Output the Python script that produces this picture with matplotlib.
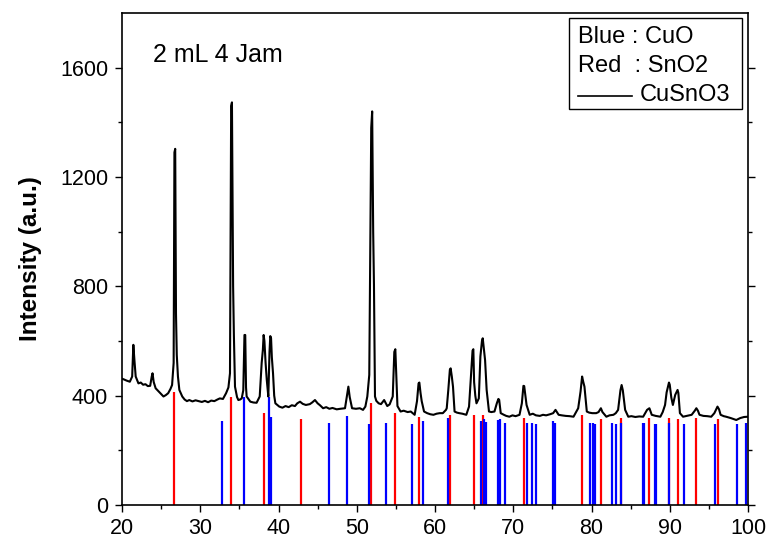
import matplotlib
matplotlib.use("Agg")
import matplotlib.pyplot as plt
from matplotlib.lines import Line2D
from matplotlib.patches import Rectangle
import numpy as np

plt.rcParams['font.family'] = ['Liberation Sans', 'DejaVu Sans']

# measured pattern (2theta, intensity)
two_theta = [20.0, 20.2, 20.6, 21.0, 21.3, 21.45, 21.6, 21.75, 22.1, 22.4, 22.7, 23.0, 23.3, 23.6,
             23.8, 23.9, 24.05, 24.3, 24.6, 24.9, 25.3, 25.6, 25.9, 26.2, 26.4, 26.6, 26.7, 26.8,
             26.9, 27.0, 27.15, 27.33, 27.7, 28.0, 28.3, 28.6, 29.0, 29.4, 29.8, 30.2, 30.6, 31.0,
             31.4, 31.8, 32.2, 32.5, 32.9, 33.3, 33.6, 33.8, 33.95, 34.05, 34.2, 34.3, 34.44, 34.7,
             34.87, 35.1, 35.3, 35.5, 35.65, 35.75, 35.85, 35.93, 36.2, 36.4, 36.8, 37.2, 37.6,
             37.85, 38.0, 38.1, 38.2, 38.35, 38.5, 38.7, 38.85, 38.95, 39.05, 39.15, 39.3, 39.45,
             39.6, 40.1, 40.5, 40.9, 41.3, 41.7, 42.1, 42.4, 42.75, 43.1, 43.5, 44.0, 44.3, 44.66,
             45.0, 45.3, 45.7, 46.1, 46.5, 46.9, 47.44, 47.9, 48.5, 48.75, 48.93, 49.1, 49.4, 49.9,
             50.4, 50.8, 51.1, 51.35, 51.6, 51.85, 51.97, 52.1, 52.2, 52.33, 52.5, 52.8, 53.1, 53.5,
             53.9, 54.2, 54.6, 54.8, 54.93, 55.05, 55.2, 55.6, 56.0, 56.5, 56.9, 57.4, 57.7, 57.9,
             58.0, 58.15, 58.3, 58.6, 59.0, 59.4, 59.8, 60.2, 60.6, 61.0, 61.4, 61.5, 61.7, 61.9,
             62.0, 62.15, 62.3, 62.5, 62.8, 63.1, 63.5, 64.0, 64.35, 64.6, 64.8, 64.9, 65.0, 65.15,
             65.3, 65.6, 65.8, 66.0, 66.1, 66.25, 66.4, 66.6, 66.9, 67.2, 67.6, 67.9, 68.1, 68.2,
             68.4, 68.8, 69.1, 69.5, 69.9, 70.3, 70.8, 71.1, 71.3, 71.4, 71.7, 72.1, 72.5, 72.9,
             73.4, 73.8, 74.2, 74.7, 75.1, 75.4, 75.8, 76.2, 76.7, 77.2, 77.7, 78.3, 78.6, 78.8,
             78.95, 79.1, 79.4, 79.7, 80.1, 80.6, 80.9, 81.2, 81.4, 81.9, 82.3, 82.8, 83.1, 83.4,
             83.7, 83.85, 84.0, 84.3, 84.7, 85.1, 85.6, 86.1, 86.6, 87.1, 87.4, 87.7, 88.2, 88.8,
             89.1, 89.4, 89.6, 89.9, 90.0, 90.2, 90.4, 90.7, 91.0, 91.1, 91.3, 91.7, 92.2, 92.8,
             93.2, 93.4, 93.6, 93.8, 94.3, 94.8, 95.3, 95.7, 96.1, 96.3, 96.5, 96.9, 97.2, 97.8,
             98.5, 99.0, 99.5, 100.0]
intensity = [462, 460, 455, 451, 470, 586, 525, 470, 445, 448, 440, 442, 435, 436,
             470, 482, 450, 427, 418, 409, 397, 402, 409, 425, 439, 520, 1290, 1303,
             700, 549, 470, 421, 397, 386, 380, 384, 379, 383, 380, 377, 381, 376,
             382, 380, 386, 390, 388, 409, 430, 482, 1460, 1473, 800, 620, 433, 395,
             384, 386, 390, 420, 622, 622, 430, 397, 386, 378, 375, 374, 397,
             520, 567, 622, 600, 520, 458, 397, 560, 618, 610, 540, 482, 400,
             372, 360, 356, 362, 358, 365, 362, 372, 378, 370, 366, 369, 375, 384,
             372, 365, 354, 358, 352, 355, 350, 352, 354, 400, 433, 395, 354, 352,
             354, 348, 360, 397, 476, 1380, 1440, 1000, 805, 397, 381, 372, 369, 384,
             362, 368, 397, 560, 570, 480, 362, 342, 345, 340, 342, 330, 380, 445,
             448, 410, 380, 342, 336, 332, 330, 334, 336, 336, 348, 354, 421, 495,
             500, 470, 433, 342, 338, 336, 334, 330, 360, 473, 565, 570, 449, 400,
             372, 390, 543, 600, 610, 570, 530, 421, 342, 340, 342, 372, 388, 385,
             336, 330, 326, 323, 328, 325, 330, 372, 436, 435, 366, 330, 334, 328,
             326, 330, 328, 332, 336, 348, 330, 328, 326, 325, 323, 354, 415, 470,
             450, 433, 342, 338, 336, 336, 340, 354, 340, 323, 328, 330, 336, 348,
             420, 439, 420, 348, 323, 325, 322, 324, 323, 348, 354, 330, 326, 323,
             340, 366, 412, 448, 440, 393, 366, 403, 421, 410, 336, 323, 326, 330,
             345, 354, 345, 330, 326, 325, 323, 336, 360, 350, 330, 325, 323, 318,
             311, 318, 322, 323]

# reference sticks
sno2_pos = [26.69, 33.93, 38.15, 42.87, 51.78, 54.89, 57.91, 61.92, 64.94, 66.1, 71.33,
            78.83, 81.21, 83.77, 87.31, 89.86, 91.1, 93.4, 96.2]
sno2_int = [415, 394, 336, 314, 375, 336, 321, 330, 330, 330, 320,
            330, 314, 320, 320, 320, 314, 320, 314]
cuo_pos = [32.78, 35.59, 38.83, 39.08, 46.41, 48.75, 51.57, 53.69, 57.02, 58.42, 61.70,
           65.88, 66.26, 66.52, 68.09, 68.3, 68.99, 71.76, 72.43, 72.94, 75.12, 75.33,
           79.81, 80.19, 80.45, 82.58, 83.09, 83.77, 86.54, 86.75, 88.08, 88.28, 89.86,
           91.82, 95.78, 98.55, 99.74]
cuo_int = [307, 394, 394, 321, 301, 327, 295, 301, 295, 307, 320,
           309, 314, 304, 311, 314, 301, 301, 301, 295, 307, 301,
           301, 301, 295, 301, 295, 301, 301, 301, 295, 295, 301,
           295, 295, 295, 301]

fig = plt.figure(figsize=(7.67, 5.41), dpi=100)
ax = fig.add_axes([122/767, 36/541, 626/767, 492/541])

ax.vlines(sno2_pos, 0, sno2_int, colors='#ff0000', linewidth=1.6)
ax.vlines(cuo_pos, 0, cuo_int, colors='#0000ff', linewidth=1.6)
ax.plot(two_theta, intensity, color='black', linewidth=1.5)

ax.set_xlim(20, 100)
ax.set_ylim(0, 1800)
ax.set_xticks(np.arange(20, 101, 10))
ax.set_xticks(np.arange(25, 100, 10), minor=True)
ax.set_yticks([0, 400, 800, 1200, 1600])
ax.set_yticks([200, 600, 1000, 1400], minor=True)
ax.tick_params(which='both', direction='out', left=True, right=True, top=False,
               labelsize=15.5, width=1)
ax.tick_params(which='major', length=5)
ax.tick_params(which='minor', length=3)
ax.tick_params(axis='y', pad=5)
ax.tick_params(axis='x', pad=4)
for s in ax.spines.values():
    s.set_linewidth(1.2)

ax.set_ylabel('Intensity (a.u.)', fontsize=17.5, fontweight='bold')
ax.yaxis.set_label_coords((42-122)/626, 0.5)
ax.text(0.05, 0.915, '2 mL 4 Jam', transform=ax.transAxes, fontsize=18, va='center')

# legend box
ax.add_patch(Rectangle(((569-122)/626, (505-109)/492), (742-569)/626, 91/492,
                       transform=ax.transAxes, fill=False, edgecolor='black', linewidth=1))
tx = (578-122)/626
ax.text(tx, (505-37)/492, 'Blue : CuO', transform=ax.transAxes, fontsize=17, va='center')
ax.text(tx, (505-66)/492, 'Red  : SnO2', transform=ax.transAxes, fontsize=17, va='center')
ax.add_line(Line2D([tx, (632-122)/626], [(505-96)/492]*2, transform=ax.transAxes,
                   color='black', linewidth=1.2))
ax.text((640-122)/626, (505-95)/492, 'CuSnO3', transform=ax.transAxes, fontsize=17, va='center')

fig.savefig('out.png', dpi=100)
